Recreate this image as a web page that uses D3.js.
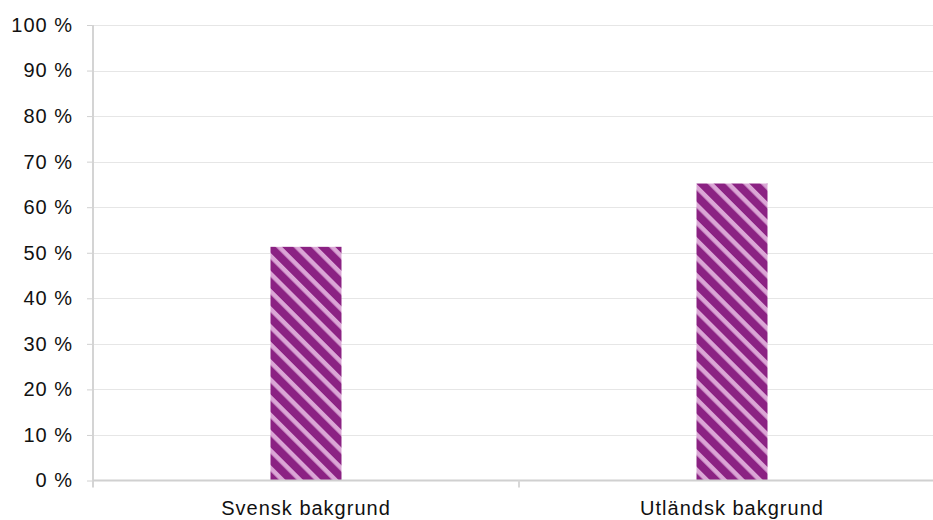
<!DOCTYPE html>
<html><head><meta charset="utf-8">
<script src="https://cdn.jsdelivr.net/npm/d3@7"></script>
<style>body{margin:0;background:#fff}svg{display:block}text{font-family:"Liberation Sans",Arial,sans-serif;fill:#111;letter-spacing:1px}</style>
</head><body><svg id="c" width="933" height="520"></svg>
<script>
const categories = ["Svensk bakgrund", "Utländsk bakgrund"];
const values = [51.3, 65.2];
const yTicks = [0,10,20,30,40,50,60,70,80,90,100];

const svg = d3.select("#c");
const m = {l:93, r:-12, t:25, b:39.5};
const W = 933, H = 520;
const x = d3.scaleBand().domain(categories).range([m.l, W - m.r]).paddingInner(0).paddingOuter(0);
const y = d3.scaleLinear().domain([0,100]).range([H - m.b, m.t]);

const defs = svg.append("defs");
const pat = defs.append("pattern").attr("id","stripe").attr("patternUnits","userSpaceOnUse")
  .attr("width",12.5).attr("height",12.5).attr("patternTransform","rotate(45)");
pat.append("rect").attr("width",12.5).attr("height",12.5).attr("fill","#8b2283");
pat.append("rect").attr("width",12.5).attr("height",4.5).attr("fill","#dba6d6");

// gridlines
svg.append("g").selectAll("line").data(yTicks.slice(1)).join("line")
  .attr("x1", m.l).attr("x2", W).attr("y1", d=>Math.round(y(d))+0.5).attr("y2", d=>Math.round(y(d))+0.5)
  .attr("stroke","#e6e6e6").attr("stroke-width",1);

// y axis
const ya = svg.append("g").attr("transform",`translate(${m.l},0)`)
  .call(d3.axisLeft(y).tickValues(yTicks).tickSize(6).tickPadding(14).tickFormat(d=>d+" %"));
ya.select(".domain").remove();
ya.selectAll(".tick line").attr("stroke","#d0d0d0");
ya.selectAll("text").attr("font-size",20).attr("fill","#111").attr("font-family",null);
svg.append("line").attr("x1",m.l).attr("x2",m.l).attr("y1",m.t).attr("y2",y(0)+7)
  .attr("stroke","#d4d4d4").attr("stroke-width",2);

// bars
svg.append("g").selectAll("rect").data(values).join("rect")
  .attr("x",(d,i)=>x(categories[i]) + x.bandwidth()/2 - 35.5)
  .attr("width",71)
  .attr("y",d=>y(d)).attr("height",d=>y(0)-y(d))
  .attr("fill","url(#stripe)");

// x axis
const xa = svg.append("g").attr("transform",`translate(0,${y(0)})`)
  .call(d3.axisBottom(x).tickSize(0).tickPadding(20));
xa.select(".domain").remove();
xa.selectAll("text").attr("font-size",20).attr("fill","#111").attr("font-family",null);
svg.append("line").attr("x1",m.l).attr("x2",W).attr("y1",y(0)).attr("y2",y(0))
  .attr("stroke","#d0d0d0").attr("stroke-width",2);
svg.append("line").attr("x1",x(categories[1])).attr("x2",x(categories[1])).attr("y1",y(0)).attr("y2",y(0)+7)
  .attr("stroke","#d8d8d8").attr("stroke-width",2);
</script></body></html>
